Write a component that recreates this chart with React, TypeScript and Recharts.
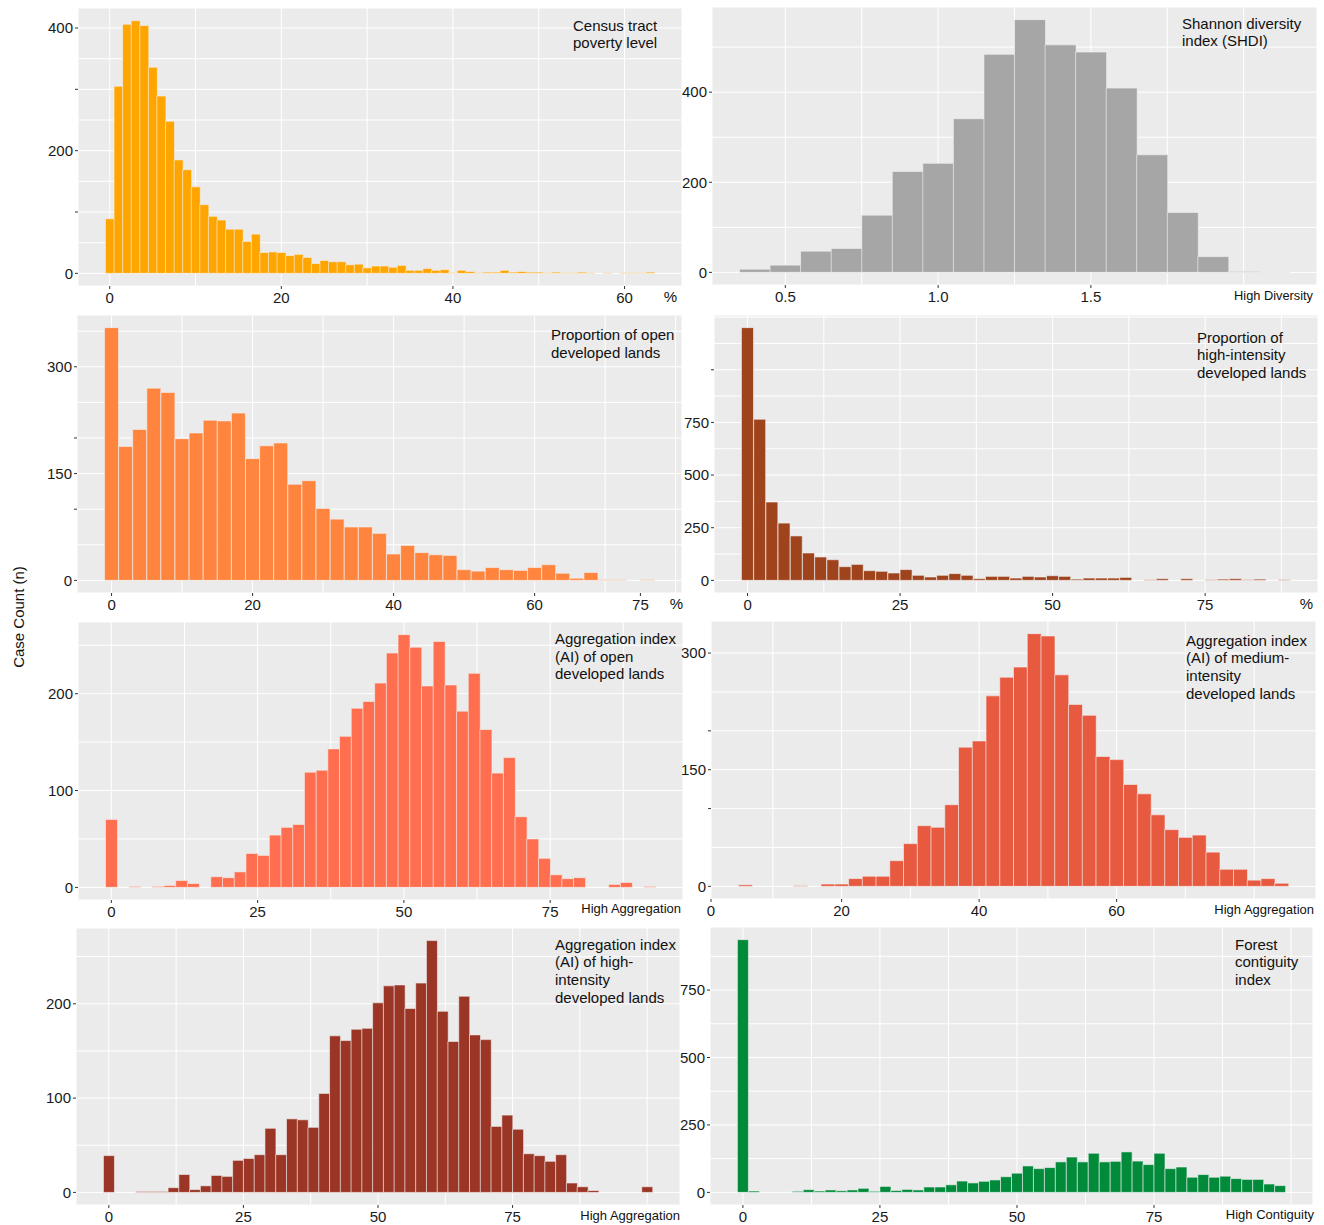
import React from 'react';
import { BarChart, Bar, XAxis, YAxis, CartesianGrid } from 'recharts';

const FONT = "'Liberation Sans', Arial, Helvetica, sans-serif";

// ---------- data (counts per histogram bin) ----------
const povertyBinStart = 0;
const povertyBinWidth = 1;
const povertyCounts = [89, 305, 406, 412, 404, 336, 289, 248, 185, 169, 141, 112, 93, 87, 72, 72, 52, 64, 34, 35, 34, 29, 31, 26, 16, 21, 19, 19, 14, 15, 9, 12, 12, 10, 13, 5, 5, 8, 5, 6, 1, 5, 3, 1, 2, 2, 5, 2, 3, 2, 2, 1, 2, 1, 1, 2, 1, 0, 1, 0, 1, 1, 1, 2];

const shdiBinStart = 0.4;
const shdiBinWidth = 0.1;
const shdiCounts = [7, 16, 47, 53, 127, 224, 242, 341, 484, 561, 505, 489, 409, 261, 133, 35, 2, 1];

const openDevBinStart = 0;
const openDevBinWidth = 2;
const openDevCounts = [355, 188, 212, 270, 264, 199, 207, 225, 224, 235, 171, 189, 193, 135, 140, 101, 86, 75, 75, 66, 37, 49, 39, 36, 35, 15, 13, 18, 15, 14, 18, 22, 10, 3, 11, 1, 1, 0, 1];

const highDevBinStart = 0;
const highDevBinWidth = 2;
const highDevCounts = [1200, 765, 372, 272, 211, 130, 111, 98, 65, 76, 46, 43, 35, 51, 24, 16, 24, 32, 24, 8, 19, 19, 11, 19, 16, 22, 19, 6, 11, 11, 11, 14, 0, 3, 8, 0, 8, 0, 3, 6, 8, 3, 6, 0, 3];

const aiOpenBinStart = 0;
const aiOpenBinWidth = 2;
const aiOpenCounts = [70, 0, 1, 0, 1, 2, 7, 4, 0, 11, 10, 16, 35, 33, 54, 62, 65, 119, 121, 143, 156, 185, 192, 211, 242, 261, 248, 208, 254, 209, 182, 221, 163, 118, 134, 73, 50, 30, 13, 9, 10, 0, 0, 3, 5, 0, 1];

const aiMedBinStart = 6;
const aiMedBinWidth = 2;
const aiMedCounts = [2, 0, 0, 0, 1, 0, 3, 3, 10, 13, 13, 33, 55, 78, 76, 105, 179, 187, 245, 269, 282, 325, 322, 272, 234, 220, 167, 163, 131, 119, 92, 73, 63, 66, 44, 22, 22, 8, 10, 4];

const aiHighBinStart = 0;
const aiHighBinWidth = 2;
const aiHighCounts = [39, 0, 0, 1, 1, 1, 5, 19, 3, 7, 18, 17, 34, 36, 40, 68, 40, 78, 77, 69, 105, 166, 161, 173, 174, 201, 219, 220, 195, 222, 267, 192, 160, 208, 167, 162, 70, 82, 67, 41, 39, 33, 40, 10, 6, 2, 0, 0, 0, 0, 6];

const forestBinStart = 0;
const forestBinWidth = 2;
const forestCounts = [937, 5, 0, 0, 0, 4, 10, 5, 9, 6, 9, 15, 4, 22, 7, 11, 9, 20, 20, 28, 42, 35, 41, 46, 58, 71, 98, 88, 92, 113, 131, 113, 145, 113, 115, 150, 116, 103, 145, 88, 94, 56, 66, 56, 60, 51, 48, 48, 31, 25];

// ---------- ticks / labels ----------
const povertyXTicks = [0, 20, 40, 60];
const povertyXLabels = ['0', '20', '40', '60'];
const povertyXGrid = [0, 10, 20, 30, 40, 50, 60];
const povertyYTicks = [0, 100, 200, 300, 400];
const povertyYLabels = ['0', '', '200', '', '400'];
const povertyYGrid = [0, 50, 100, 150, 200, 250, 300, 350, 400];

const shdiXTicks = [0.5, 1.0, 1.5];
const shdiXLabels = ['0.5', '1.0', '1.5'];
const shdiXGrid = [0.5, 0.75, 1.0, 1.25, 1.5, 1.75, 2.0];
const shdiYTicks = [0, 200, 400];
const shdiYLabels = ['0', '200', '400'];
const shdiYGrid = [0, 100, 200, 300, 400, 500];

const openDevXTicks = [0, 20, 40, 60, 75];
const openDevXLabels = ['0', '20', '40', '60', '75'];
const openDevXGrid = [0, 10, 20, 30, 40, 50, 60, 70, 80];
const openDevYTicks = [0, 100, 150, 200, 300];
const openDevYLabels = ['0', '', '150', '', '300'];
const openDevYGrid = [0, 50, 100, 150, 200, 250, 300, 350];

const highDevXTicks = [0, 25, 50, 75];
const highDevXLabels = ['0', '25', '50', '75'];
const highDevXGrid = [0, 12.5, 25, 37.5, 50, 62.5, 75, 87.5];
const highDevYTicks = [0, 250, 500, 750, 1000];
const highDevYLabels = ['0', '250', '500', '750', ''];
const highDevYGrid = [0, 125, 250, 375, 500, 625, 750, 875, 1000, 1125, 1250];

const aiOpenXTicks = [0, 25, 50, 75];
const aiOpenXLabels = ['0', '25', '50', '75'];
const aiOpenXGrid = [0, 12.5, 25, 37.5, 50, 62.5, 75, 87.5];
const aiOpenYTicks = [0, 100, 200];
const aiOpenYLabels = ['0', '100', '200'];
const aiOpenYGrid = [0, 50, 100, 150, 200, 250];

const aiMedXTicks = [1, 20, 40, 60];
const aiMedXLabels = ['0', '20', '40', '60'];
const aiMedXGrid = [10, 20, 30, 40, 50, 60, 70, 80];
const aiMedYTicks = [0, 100, 150, 200, 300];
const aiMedYLabels = ['0', '', '150', '', '300'];
const aiMedYGrid = [0, 50, 100, 150, 200, 250, 300];

const aiHighXTicks = [0, 25, 50, 75];
const aiHighXLabels = ['0', '25', '50', '75'];
const aiHighXGrid = [0, 12.5, 25, 37.5, 50, 62.5, 75, 87.5, 100];
const aiHighYTicks = [0, 100, 200];
const aiHighYLabels = ['0', '100', '200'];
const aiHighYGrid = [0, 50, 100, 150, 200, 250];

const forestXTicks = [0, 25, 50, 75];
const forestXLabels = ['0', '25', '50', '75'];
const forestXGrid = [0, 12.5, 25, 37.5, 50, 62.5, 75, 87.5, 100];
const forestYTicks = [0, 250, 500, 750];
const forestYLabels = ['0', '250', '500', '750'];
const forestYGrid = [0, 125, 250, 375, 500, 625, 750, 875];

// ---------- panel component ----------
const AXW = 40;
const AXH = 30;

type PanelProps = {
  left: number; top: number; plotW: number; plotH: number;
  binStart: number; binWidth: number; counts: number[];
  color: string;
  xGrid: number[]; yGrid: number[];
  xTicks: number[]; xLabels: string[];
  yTicks: number[]; yLabels: string[];
};

const labelFor = (ticks: number[], labels: string[]) => (v: number) => {
  const i = ticks.findIndex((t) => Math.abs(t - v) < 1e-9);
  return i >= 0 ? labels[i] : '';
};

function Panel(p: PanelProps) {
  const data = p.counts.map((n, i) => ({ x: Math.round((p.binStart + i * p.binWidth) * 1e6) / 1e6, n }));
  const lo = p.binStart - p.binWidth / 2;
  const hi = p.binStart + (p.counts.length - 0.5) * p.binWidth;
  const xr = hi - lo;
  const xDomain: [number, number] = [lo - 0.05 * xr, hi + 0.05 * xr];
  const maxN = Math.max(...p.counts);
  const yDomain: [number, number] = [-0.05 * maxN, 1.05 * maxN];
  const W = AXW + p.plotW;
  const H = p.plotH + AXH;
  const tickStyle = { fill: '#1a1a1a', fontSize: 15, fontFamily: FONT };
  return (
    <div style={{ position: 'absolute', left: p.left - AXW, top: p.top, width: W, height: H }}>
      <BarChart width={W} height={H} data={data} margin={{ top: 0, right: 0, bottom: 0, left: 0 }} barCategoryGap={0} barGap={0}>
        <CartesianGrid xAxisId="gx" yAxisId="gy" fill="#EBEBEB" stroke="#FFFFFF" strokeWidth={1} />
        <XAxis
          xAxisId="x" dataKey="x" type="number" domain={xDomain} ticks={p.xTicks} allowDataOverflow interval={0}
          height={AXH} axisLine={false} tickLine={{ stroke: '#333333' }} tickSize={3} tickMargin={3}
          tick={tickStyle} tickFormatter={labelFor(p.xTicks, p.xLabels)}
        />
        <YAxis
          yAxisId="y" type="number" domain={yDomain} ticks={p.yTicks} allowDataOverflow interval={0}
          width={AXW} axisLine={false} tickLine={{ stroke: '#333333' }} tickSize={3} tickMargin={2}
          tick={tickStyle} tickFormatter={labelFor(p.yTicks, p.yLabels)}
        />
        <XAxis xAxisId="gx" dataKey="x" type="number" domain={xDomain} ticks={p.xGrid} allowDataOverflow hide height={0} interval={0} />
        <YAxis yAxisId="gy" type="number" domain={yDomain} ticks={p.yGrid} allowDataOverflow hide width={0} interval={0} />
        <Bar xAxisId="x" yAxisId="y" dataKey="n" fill={p.color} stroke="#F2F2F2" strokeWidth={0.6} isAnimationActive={false} />
      </BarChart>
    </div>
  );
}

function Txt({ left, top, lines, size = 15 }: { left: number; top: number; lines: string[]; size?: number }) {
  return (
    <div style={{ position: 'absolute', left, top, fontFamily: FONT, fontSize: size, lineHeight: '17.6px', color: '#111', whiteSpace: 'nowrap' }}>
      {lines.map((l, i) => (<div key={i}>{l}</div>))}
    </div>
  );
}

function RTxt({ right, centerY, text, size = 13 }: { right: number; centerY: number; text: string; size?: number }) {
  return (
    <div style={{ position: 'absolute', right: 1324 - right, top: centerY - 9, height: 18, lineHeight: '18px', fontFamily: FONT, fontSize: size, color: '#111', whiteSpace: 'nowrap' }}>
      {text}
    </div>
  );
}

export default function App() {
  return (
    <div style={{ position: 'absolute', left: 0, top: 0, width: 1324, height: 1225, background: '#FFFFFF', overflow: 'hidden', fontFamily: FONT }}>
      <Panel left={78} top={8} plotW={604} plotH={278} binStart={povertyBinStart} binWidth={povertyBinWidth} counts={povertyCounts} color="#FFA500"
        xGrid={povertyXGrid} yGrid={povertyYGrid} xTicks={povertyXTicks} xLabels={povertyXLabels} yTicks={povertyYTicks} yLabels={povertyYLabels} />
      <Panel left={712} top={7} plotW={605} plotH={278} binStart={shdiBinStart} binWidth={shdiBinWidth} counts={shdiCounts} color="#A6A6A6"
        xGrid={shdiXGrid} yGrid={shdiYGrid} xTicks={shdiXTicks} xLabels={shdiXLabels} yTicks={shdiYTicks} yLabels={shdiYLabels} />
      <Panel left={77} top={315} plotW={605} plotH={278} binStart={openDevBinStart} binWidth={openDevBinWidth} counts={openDevCounts} color="#FF853F"
        xGrid={openDevXGrid} yGrid={openDevYGrid} xTicks={openDevXTicks} xLabels={openDevXLabels} yTicks={openDevYTicks} yLabels={openDevYLabels} />
      <Panel left={714} top={315} plotW={604} plotH={278} binStart={highDevBinStart} binWidth={highDevBinWidth} counts={highDevCounts} color="#9E431C"
        xGrid={highDevXGrid} yGrid={highDevYGrid} xTicks={highDevXTicks} xLabels={highDevXLabels} yTicks={highDevYTicks} yLabels={highDevYLabels} />
      <Panel left={78} top={622} plotW={605} plotH={278} binStart={aiOpenBinStart} binWidth={aiOpenBinWidth} counts={aiOpenCounts} color="#FF6E4F"
        xGrid={aiOpenXGrid} yGrid={aiOpenYGrid} xTicks={aiOpenXTicks} xLabels={aiOpenXLabels} yTicks={aiOpenYTicks} yLabels={aiOpenYLabels} />
      <Panel left={711} top={621} plotW={605} plotH={278} binStart={aiMedBinStart} binWidth={aiMedBinWidth} counts={aiMedCounts} color="#E85A40"
        xGrid={aiMedXGrid} yGrid={aiMedYGrid} xTicks={aiMedXTicks} xLabels={aiMedXLabels} yTicks={aiMedYTicks} yLabels={aiMedYLabels} />
      <Panel left={76} top={928} plotW={604} plotH={277} binStart={aiHighBinStart} binWidth={aiHighBinWidth} counts={aiHighCounts} color="#9B3626"
        xGrid={aiHighXGrid} yGrid={aiHighYGrid} xTicks={aiHighXTicks} xLabels={aiHighXLabels} yTicks={aiHighYTicks} yLabels={aiHighYLabels} />
      <Panel left={710} top={927} plotW={603} plotH={278} binStart={forestBinStart} binWidth={forestBinWidth} counts={forestCounts} color="#008A3A"
        xGrid={forestXGrid} yGrid={forestYGrid} xTicks={forestXTicks} xLabels={forestXLabels} yTicks={forestYTicks} yLabels={forestYLabels} />

      <Txt left={573} top={16.8} lines={['Census tract', 'poverty level']} />
      <Txt left={1182} top={14.6} lines={['Shannon diversity', 'index (SHDI)']} />
      <Txt left={551} top={326.2} lines={['Proportion of open', 'developed lands']} />
      <Txt left={1197} top={328.7} lines={['Proportion of', 'high-intensity', 'developed lands']} />
      <Txt left={555} top={630.2} lines={['Aggregation index', '(AI) of open', 'developed lands']} />
      <Txt left={1186} top={631.9} lines={['Aggregation index', '(AI) of medium-', 'intensity', 'developed lands']} />
      <Txt left={555} top={935.9} lines={['Aggregation index', '(AI) of high-', 'intensity', 'developed lands']} />
      <Txt left={1235} top={935.9} lines={['Forest', 'contiguity', 'index']} />

      <RTxt right={677} centerY={297} text="%" size={15} />
      <RTxt right={1313} centerY={296} text="High Diversity" size={12.8} />
      <RTxt right={683} centerY={604} text="%" size={15} />
      <RTxt right={1313} centerY={604} text="%" size={15} />
      <RTxt right={681} centerY={909} text="High Aggregation" size={13} />
      <RTxt right={1314} centerY={910} text="High Aggregation" size={13} />
      <RTxt right={680} centerY={1216} text="High Aggregation" size={13} />
      <RTxt right={1314} centerY={1215} text="High Contiguity" size={13} />

      <div style={{ position: 'absolute', left: 18, top: 617, transform: 'translate(-50%, -50%) rotate(-90deg)', fontFamily: FONT, fontSize: 15, color: '#111', whiteSpace: 'nowrap' }}>
        Case Count (n)
      </div>
    </div>
  );
}
